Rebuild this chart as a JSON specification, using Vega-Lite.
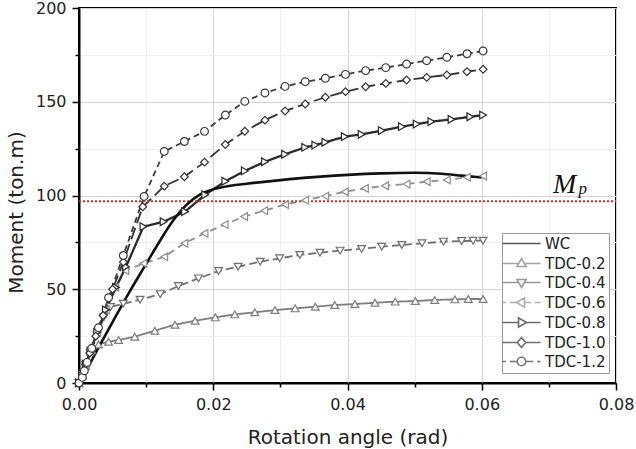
{
  "$schema": "https://vega.github.io/schema/vega-lite/v6.json",
  "width": 537,
  "height": 375,
  "autosize": {"type": "none"},
  "padding": {"left": 79, "top": 8, "right": 20, "bottom": 66},
  "background": "white",
  "config": {
    "font": "DejaVu Sans",
    "view": {"stroke": "#000000", "strokeWidth": 2},
    "axis": {
      "domainColor": "#000000",
      "domainWidth": 2,
      "tickColor": "#000000",
      "tickWidth": 1.5,
      "labelFont": "DejaVu Sans",
      "labelFontSize": 16,
      "labelColor": "#222222",
      "labelPadding": 6,
      "labelFlush": false,
      "titleFont": "DejaVu Sans",
      "titleFontSize": 20,
      "titleFontWeight": "normal",
      "titleColor": "#222222",
      "gridWidth": 1
    },
    "axisX": {"titlePadding": 15},
    "axisY": {"titlePadding": 9, "titleY": 204},
    "legend": {
      "labelFont": "DejaVu Sans",
      "labelFontSize": 15,
      "labelColor": "#222222",
      "strokeColor": "#9a9a9a",
      "fillColor": "white",
      "padding": 3,
      "rowPadding": 3,
      "symbolSize": 64,
      "symbolStrokeWidth": 1.6,
      "symbolFillColor": "white",
      "symbolOffset": 9,
      "labelOffset": 16,
      "cornerRadius": 0
    }
  },
  "datasets": {
    "plastic": [{"label": "M", "sub": "p", "moment": 97}],
    "curves": [
      {"series": "WC", "rot": 0, "moment": 0},
      {"series": "WC", "rot": 0.0015, "moment": 9.5},
      {"series": "WC", "rot": 0.003, "moment": 19.5},
      {"series": "WC", "rot": 0.005, "moment": 32.5},
      {"series": "WC", "rot": 0.0075, "moment": 48.5},
      {"series": "WC", "rot": 0.01, "moment": 63.5},
      {"series": "WC", "rot": 0.012, "moment": 75.5},
      {"series": "WC", "rot": 0.014, "moment": 86.5},
      {"series": "WC", "rot": 0.016, "moment": 95},
      {"series": "WC", "rot": 0.018, "moment": 100.5},
      {"series": "WC", "rot": 0.02, "moment": 103.3},
      {"series": "WC", "rot": 0.0225, "moment": 105.2},
      {"series": "WC", "rot": 0.025, "moment": 106.3},
      {"series": "WC", "rot": 0.03, "moment": 108.2},
      {"series": "WC", "rot": 0.035, "moment": 109.8},
      {"series": "WC", "rot": 0.04, "moment": 111},
      {"series": "WC", "rot": 0.045, "moment": 111.8},
      {"series": "WC", "rot": 0.05, "moment": 112.1},
      {"series": "WC", "rot": 0.054, "moment": 111.6},
      {"series": "WC", "rot": 0.057, "moment": 110.6},
      {"series": "WC", "rot": 0.06, "moment": 109.6},

      {"series": "TDC-0.2", "rot": 0, "moment": 0},
      {"series": "TDC-0.2", "rot": 0.0005, "moment": 4},
      {"series": "TDC-0.2", "rot": 0.001, "moment": 9},
      {"series": "TDC-0.2", "rot": 0.0019, "moment": 17.5},
      {"series": "TDC-0.2", "rot": 0.0029, "moment": 20.5},
      {"series": "TDC-0.2", "rot": 0.0044, "moment": 22},
      {"series": "TDC-0.2", "rot": 0.0059, "moment": 22.9},
      {"series": "TDC-0.2", "rot": 0.0083, "moment": 24.7},
      {"series": "TDC-0.2", "rot": 0.0113, "moment": 27.9},
      {"series": "TDC-0.2", "rot": 0.0143, "moment": 31.1},
      {"series": "TDC-0.2", "rot": 0.0173, "moment": 33.2},
      {"series": "TDC-0.2", "rot": 0.0203, "moment": 35},
      {"series": "TDC-0.2", "rot": 0.0232, "moment": 36.6},
      {"series": "TDC-0.2", "rot": 0.0262, "moment": 37.7},
      {"series": "TDC-0.2", "rot": 0.0292, "moment": 38.9},
      {"series": "TDC-0.2", "rot": 0.0322, "moment": 39.8},
      {"series": "TDC-0.2", "rot": 0.0352, "moment": 40.7},
      {"series": "TDC-0.2", "rot": 0.0381, "moment": 41.6},
      {"series": "TDC-0.2", "rot": 0.0411, "moment": 42.1},
      {"series": "TDC-0.2", "rot": 0.0441, "moment": 42.8},
      {"series": "TDC-0.2", "rot": 0.0471, "moment": 43.4},
      {"series": "TDC-0.2", "rot": 0.0501, "moment": 43.7},
      {"series": "TDC-0.2", "rot": 0.053, "moment": 44.3},
      {"series": "TDC-0.2", "rot": 0.056, "moment": 44.6},
      {"series": "TDC-0.2", "rot": 0.058, "moment": 44.8},
      {"series": "TDC-0.2", "rot": 0.0602, "moment": 44.8},

      {"series": "TDC-0.4", "rot": 0, "moment": 0},
      {"series": "TDC-0.4", "rot": 0.0005, "moment": 4.5},
      {"series": "TDC-0.4", "rot": 0.001, "moment": 9.5},
      {"series": "TDC-0.4", "rot": 0.0017, "moment": 16},
      {"series": "TDC-0.4", "rot": 0.0027, "moment": 25.5},
      {"series": "TDC-0.4", "rot": 0.0037, "moment": 35},
      {"series": "TDC-0.4", "rot": 0.0047, "moment": 40.5},
      {"series": "TDC-0.4", "rot": 0.0066, "moment": 42.3},
      {"series": "TDC-0.4", "rot": 0.0091, "moment": 44.4},
      {"series": "TDC-0.4", "rot": 0.0121, "moment": 47.4},
      {"series": "TDC-0.4", "rot": 0.0148, "moment": 51.7},
      {"series": "TDC-0.4", "rot": 0.0178, "moment": 55.8},
      {"series": "TDC-0.4", "rot": 0.0208, "moment": 59.7},
      {"series": "TDC-0.4", "rot": 0.0237, "moment": 62},
      {"series": "TDC-0.4", "rot": 0.027, "moment": 64.7},
      {"series": "TDC-0.4", "rot": 0.0299, "moment": 66.5},
      {"series": "TDC-0.4", "rot": 0.0329, "moment": 68.3},
      {"series": "TDC-0.4", "rot": 0.0359, "moment": 69.5},
      {"series": "TDC-0.4", "rot": 0.0389, "moment": 70.6},
      {"series": "TDC-0.4", "rot": 0.0421, "moment": 71.5},
      {"series": "TDC-0.4", "rot": 0.0451, "moment": 72.7},
      {"series": "TDC-0.4", "rot": 0.0481, "moment": 73.6},
      {"series": "TDC-0.4", "rot": 0.0511, "moment": 74.5},
      {"series": "TDC-0.4", "rot": 0.0543, "moment": 75.4},
      {"series": "TDC-0.4", "rot": 0.057, "moment": 75.7},
      {"series": "TDC-0.4", "rot": 0.0587, "moment": 75.9},
      {"series": "TDC-0.4", "rot": 0.0602, "moment": 75.9},

      {"series": "TDC-0.6", "rot": 0, "moment": 0},
      {"series": "TDC-0.6", "rot": 0.0005, "moment": 5},
      {"series": "TDC-0.6", "rot": 0.001, "moment": 10},
      {"series": "TDC-0.6", "rot": 0.0017, "moment": 17},
      {"series": "TDC-0.6", "rot": 0.0027, "moment": 27},
      {"series": "TDC-0.6", "rot": 0.004, "moment": 39},
      {"series": "TDC-0.6", "rot": 0.0054, "moment": 51},
      {"series": "TDC-0.6", "rot": 0.0069, "moment": 60},
      {"series": "TDC-0.6", "rot": 0.0096, "moment": 63.8},
      {"series": "TDC-0.6", "rot": 0.0127, "moment": 67.3},
      {"series": "TDC-0.6", "rot": 0.0157, "moment": 74.5},
      {"series": "TDC-0.6", "rot": 0.0187, "moment": 79.8},
      {"series": "TDC-0.6", "rot": 0.0217, "moment": 84.5},
      {"series": "TDC-0.6", "rot": 0.0246, "moment": 88.8},
      {"series": "TDC-0.6", "rot": 0.0276, "moment": 91.9},
      {"series": "TDC-0.6", "rot": 0.0307, "moment": 95.2},
      {"series": "TDC-0.6", "rot": 0.0337, "moment": 97.5},
      {"series": "TDC-0.6", "rot": 0.0367, "moment": 99.7},
      {"series": "TDC-0.6", "rot": 0.0396, "moment": 102},
      {"series": "TDC-0.6", "rot": 0.0426, "moment": 103.8},
      {"series": "TDC-0.6", "rot": 0.0456, "moment": 105.2},
      {"series": "TDC-0.6", "rot": 0.0488, "moment": 106.1},
      {"series": "TDC-0.6", "rot": 0.0518, "moment": 107.4},
      {"series": "TDC-0.6", "rot": 0.0548, "moment": 108.3},
      {"series": "TDC-0.6", "rot": 0.0578, "moment": 109.7},
      {"series": "TDC-0.6", "rot": 0.0602, "moment": 110.4},

      {"series": "TDC-0.8", "rot": 0, "moment": 0},
      {"series": "TDC-0.8", "rot": 0.0005, "moment": 5},
      {"series": "TDC-0.8", "rot": 0.001, "moment": 10},
      {"series": "TDC-0.8", "rot": 0.0017, "moment": 17},
      {"series": "TDC-0.8", "rot": 0.0027, "moment": 27},
      {"series": "TDC-0.8", "rot": 0.004, "moment": 39},
      {"series": "TDC-0.8", "rot": 0.0055, "moment": 51},
      {"series": "TDC-0.8", "rot": 0.007, "moment": 62},
      {"series": "TDC-0.8", "rot": 0.0096, "moment": 83.4},
      {"series": "TDC-0.8", "rot": 0.0126, "moment": 86},
      {"series": "TDC-0.8", "rot": 0.0158, "moment": 91.4},
      {"series": "TDC-0.8", "rot": 0.0188, "moment": 100.4},
      {"series": "TDC-0.8", "rot": 0.0218, "moment": 107.6},
      {"series": "TDC-0.8", "rot": 0.0247, "moment": 113.1},
      {"series": "TDC-0.8", "rot": 0.0277, "moment": 118},
      {"series": "TDC-0.8", "rot": 0.0307, "moment": 122},
      {"series": "TDC-0.8", "rot": 0.0337, "moment": 125.7},
      {"series": "TDC-0.8", "rot": 0.0352, "moment": 126.9},
      {"series": "TDC-0.8", "rot": 0.0367, "moment": 128.4},
      {"series": "TDC-0.8", "rot": 0.0396, "moment": 131.4},
      {"series": "TDC-0.8", "rot": 0.0421, "moment": 132.6},
      {"series": "TDC-0.8", "rot": 0.0451, "moment": 134.6},
      {"series": "TDC-0.8", "rot": 0.0481, "moment": 136.7},
      {"series": "TDC-0.8", "rot": 0.0503, "moment": 138.1},
      {"series": "TDC-0.8", "rot": 0.0525, "moment": 139.4},
      {"series": "TDC-0.8", "rot": 0.0555, "moment": 140.6},
      {"series": "TDC-0.8", "rot": 0.0583, "moment": 142},
      {"series": "TDC-0.8", "rot": 0.0602, "moment": 142.9},

      {"series": "TDC-1.0", "rot": 0, "moment": 0},
      {"series": "TDC-1.0", "rot": 0.0005, "moment": 5},
      {"series": "TDC-1.0", "rot": 0.001, "moment": 10},
      {"series": "TDC-1.0", "rot": 0.0016, "moment": 16},
      {"series": "TDC-1.0", "rot": 0.0025, "moment": 25},
      {"series": "TDC-1.0", "rot": 0.0036, "moment": 36},
      {"series": "TDC-1.0", "rot": 0.005, "moment": 50},
      {"series": "TDC-1.0", "rot": 0.0066, "moment": 64.5},
      {"series": "TDC-1.0", "rot": 0.0095, "moment": 94},
      {"series": "TDC-1.0", "rot": 0.0127, "moment": 105},
      {"series": "TDC-1.0", "rot": 0.0157, "moment": 110},
      {"series": "TDC-1.0", "rot": 0.0187, "moment": 117.8},
      {"series": "TDC-1.0", "rot": 0.0218, "moment": 127.2},
      {"series": "TDC-1.0", "rot": 0.0247, "moment": 134.3},
      {"series": "TDC-1.0", "rot": 0.0277, "moment": 140.2},
      {"series": "TDC-1.0", "rot": 0.0307, "moment": 145.1},
      {"series": "TDC-1.0", "rot": 0.0337, "moment": 148.8},
      {"series": "TDC-1.0", "rot": 0.0367, "moment": 152.4},
      {"series": "TDC-1.0", "rot": 0.0397, "moment": 155.4},
      {"series": "TDC-1.0", "rot": 0.0427, "moment": 158},
      {"series": "TDC-1.0", "rot": 0.0457, "moment": 159.8},
      {"series": "TDC-1.0", "rot": 0.0488, "moment": 161.6},
      {"series": "TDC-1.0", "rot": 0.0518, "moment": 163},
      {"series": "TDC-1.0", "rot": 0.0548, "moment": 164.3},
      {"series": "TDC-1.0", "rot": 0.0578, "moment": 166},
      {"series": "TDC-1.0", "rot": 0.0602, "moment": 167.3},

      {"series": "TDC-1.2", "rot": 0, "moment": 0},
      {"series": "TDC-1.2", "rot": 0.0005, "moment": 3},
      {"series": "TDC-1.2", "rot": 0.0008, "moment": 6.5},
      {"series": "TDC-1.2", "rot": 0.0012, "moment": 11},
      {"series": "TDC-1.2", "rot": 0.0019, "moment": 18.5},
      {"series": "TDC-1.2", "rot": 0.0029, "moment": 29.5},
      {"series": "TDC-1.2", "rot": 0.0044, "moment": 45.5},
      {"series": "TDC-1.2", "rot": 0.0066, "moment": 68},
      {"series": "TDC-1.2", "rot": 0.0097, "moment": 99.5},
      {"series": "TDC-1.2", "rot": 0.0127, "moment": 123.5},
      {"series": "TDC-1.2", "rot": 0.0157, "moment": 128.8},
      {"series": "TDC-1.2", "rot": 0.0187, "moment": 134.2},
      {"series": "TDC-1.2", "rot": 0.0218, "moment": 142.9},
      {"series": "TDC-1.2", "rot": 0.0247, "moment": 150.2},
      {"series": "TDC-1.2", "rot": 0.0277, "moment": 154.7},
      {"series": "TDC-1.2", "rot": 0.0307, "moment": 158.2},
      {"series": "TDC-1.2", "rot": 0.0337, "moment": 160.7},
      {"series": "TDC-1.2", "rot": 0.0367, "moment": 162.5},
      {"series": "TDC-1.2", "rot": 0.0397, "moment": 164.6},
      {"series": "TDC-1.2", "rot": 0.0427, "moment": 166.6},
      {"series": "TDC-1.2", "rot": 0.0457, "moment": 168.2},
      {"series": "TDC-1.2", "rot": 0.0488, "moment": 170.1},
      {"series": "TDC-1.2", "rot": 0.0518, "moment": 171.9},
      {"series": "TDC-1.2", "rot": 0.0548, "moment": 173.7},
      {"series": "TDC-1.2", "rot": 0.0578, "moment": 175.6},
      {"series": "TDC-1.2", "rot": 0.0602, "moment": 177.1}
    ]
  },
  "layer": [
    {
      "layer": [
        {
          "data": {"name": "curves"},
          "transform": [{"filter": "datum.series !== 'WC'"}],
          "mark": {"type": "line", "interpolate": "linear"},
          "encoding": {
            "x": {
              "field": "rot",
              "type": "quantitative",
              "scale": {"domain": [0, 0.08], "nice": false, "zero": false},
              "axis": {
                "title": "Rotation angle (rad)",
                "values": [0, 0.01, 0.02, 0.03, 0.04, 0.05, 0.06, 0.07, 0.08],
                "format": ".2f",
                "labelExpr": "round(datum.value * 100) % 2 === 0 ? datum.label : ''",
                "tickSize": {"condition": {"test": "round(datum.value * 100) % 2 === 0", "value": 7}, "value": 4},
                "gridColor": {"condition": {"test": "round(datum.value * 100) % 2 === 0", "value": "#d4d4d4"}, "value": "#eeeeee"}
              }
            },
            "y": {
              "field": "moment",
              "type": "quantitative",
              "scale": {"domain": [0, 200], "nice": false},
              "axis": {
                "title": "Moment (ton.m)",
                "values": [0, 25, 50, 75, 100, 125, 150, 175, 200],
                "labelExpr": "datum.value % 50 === 0 ? datum.label : ''",
                "tickSize": {"condition": {"test": "datum.value % 50 === 0", "value": 7}, "value": 4},
                "gridColor": {"condition": {"test": "datum.value % 50 === 0", "value": "#d4d4d4"}, "value": "#eeeeee"}
              }
            },
            "stroke": {
              "field": "series", "type": "nominal", "legend": null,
              "scale": {
                "domain": ["WC", "TDC-0.2", "TDC-0.4", "TDC-0.6", "TDC-0.8", "TDC-1.0", "TDC-1.2"],
                "range": ["#111111", "#7d7d7d", "#6f6f6f", "#8e8e8e", "#2b2b2b", "#333333", "#3a3a3a"]
              }
            },
            "strokeDash": {
              "field": "series", "type": "nominal", "legend": null,
              "scale": {
                "domain": ["WC", "TDC-0.2", "TDC-0.4", "TDC-0.6", "TDC-0.8", "TDC-1.0", "TDC-1.2"],
                "range": [[1, 0], [1, 0], [8, 4], [7, 5], [1, 0], [12, 5], [6, 4]]
              }
            },
            "strokeWidth": {
              "condition": {"test": "datum.series === 'TDC-0.8'", "value": 2.3},
              "value": 1.8
            }
          }
        },
        {
          "data": {"name": "plastic"},
          "mark": {"type": "rule", "color": "#e3262b", "strokeWidth": 2, "strokeDash": [2, 2]},
          "encoding": {
            "x": {"datum": 0, "type": "quantitative"},
            "x2": {"datum": 0.08},
            "y": {"field": "moment", "type": "quantitative"}
          }
        },
        {
          "data": {"name": "curves"},
          "transform": [{"filter": "datum.series === 'WC'"}],
          "mark": {"type": "line", "interpolate": "monotone", "strokeWidth": 2.6},
          "encoding": {
            "x": {"field": "rot", "type": "quantitative"},
            "y": {"field": "moment", "type": "quantitative"},
            "stroke": {"field": "series", "type": "nominal", "legend": null}
          }
        },
        {
          "data": {"name": "curves"},
          "transform": [{"filter": "datum.series !== 'WC'"}],
          "mark": {"type": "point", "filled": true, "fill": "white", "size": 60, "strokeWidth": 1.2, "opacity": 1},
          "encoding": {
            "x": {"field": "rot", "type": "quantitative"},
            "y": {"field": "moment", "type": "quantitative"},
            "stroke": {"field": "series", "type": "nominal", "legend": null},
            "shape": {
              "field": "series", "type": "nominal", "legend": null,
              "scale": {
                "domain": ["TDC-0.2", "TDC-0.4", "TDC-0.6", "TDC-0.8", "TDC-1.0", "TDC-1.2"],
                "range": ["triangle-up", "triangle-down", "triangle-left", "triangle-right", "diamond", "circle"]
              }
            }
          }
        },
        {
          "data": {"name": "plastic"},
          "mark": {"type": "text", "font": "Liberation Serif", "fontStyle": "italic", "fontSize": 28, "align": "left", "baseline": "alphabetic", "color": "#111111"},
          "encoding": {
            "x": {"datum": 0.0706, "type": "quantitative"},
            "y": {"datum": 101.3, "type": "quantitative"},
            "text": {"field": "label"}
          }
        },
        {
          "data": {"name": "plastic"},
          "mark": {"type": "text", "font": "Liberation Serif", "fontStyle": "italic", "fontSize": 17, "align": "left", "baseline": "alphabetic", "color": "#111111"},
          "encoding": {
            "x": {"datum": 0.0744, "type": "quantitative"},
            "y": {"datum": 100.8, "type": "quantitative"},
            "text": {"field": "sub"}
          }
        }
      ]
    },
    {
      "data": {"name": "curves"},
      "transform": [{"filter": "false"}],
      "mark": {"type": "point", "filled": true, "fill": "white", "size": 64, "strokeWidth": 1.6},
      "encoding": {
        "stroke": {
          "field": "series", "type": "nominal",
          "scale": {
            "domain": ["WC", "TDC-0.2", "TDC-0.4", "TDC-0.6", "TDC-0.8", "TDC-1.0", "TDC-1.2"],
            "range": ["#111111", "#7d7d7d", "#6f6f6f", "#8e8e8e", "#2b2b2b", "#333333", "#3a3a3a"]
          },
          "legend": {"orient": "none", "legendX": 423, "legendY": 225, "title": null}
        },
        "shape": {
          "field": "series", "type": "nominal",
          "scale": {
            "domain": ["WC", "TDC-0.2", "TDC-0.4", "TDC-0.6", "TDC-0.8", "TDC-1.0", "TDC-1.2"],
            "range": [
              "M-4.75,0L4.75,0",
              "M-4.75,0L-0.7,0M0.7,0L4.75,0M0,-1.25L1.15,0.75L-1.15,0.75Z",
              "M-4.75,0L-0.7,0M0.7,0L4.75,0M0,1.25L1.15,-0.75L-1.15,-0.75Z",
              "M-4.75,0L-3.9,0M-2.95,0L-1.25,0M0.75,0L2.4,0M3.3,0L4.75,0M-1.25,0L0.75,-1.15L0.75,1.15Z",
              "M-4.75,0L-0.75,0M1.25,0L4.75,0M1.25,0L-0.75,-1.15L-0.75,1.15Z",
              "M-4.75,0L-1.05,0M1.05,0L4.75,0M0,-1.25L1.05,0L0,1.25L-1.05,0Z",
              "M-4.75,0L-3.9,0M-2.95,0L-1.05,0M1.05,0L2.95,0M3.9,0L4.75,0M-1.05,0A1.05,1.05,0,1,0,1.05,0A1.05,1.05,0,1,0,-1.05,0Z"
            ]
          },
          "legend": {"orient": "none", "legendX": 423, "legendY": 225, "title": null}
        }
      }
    }
  ],
  "resolve": {"scale": {"stroke": "independent", "shape": "independent"}}
}
